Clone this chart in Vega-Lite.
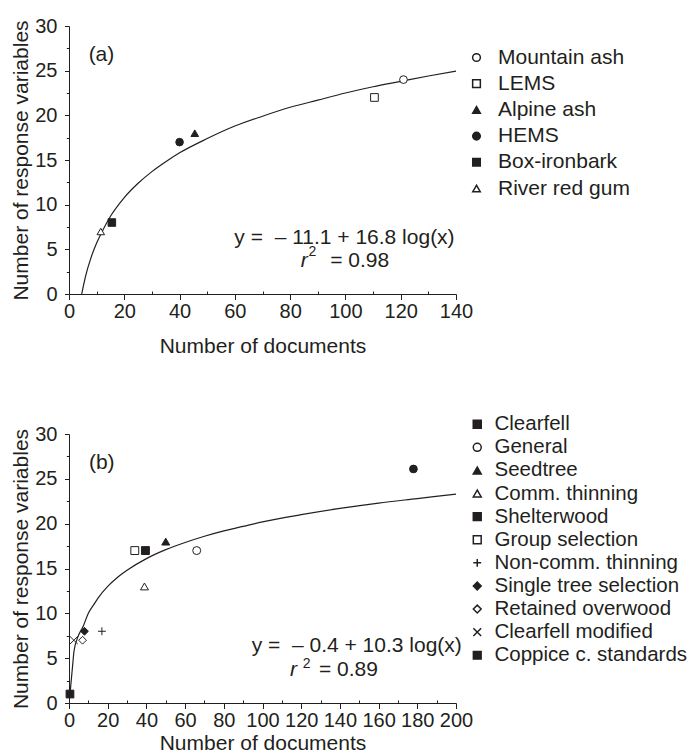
{
  "$schema": "https://vega.github.io/schema/vega-lite/v6.json",
  "background": "white",
  "padding": {"top": 16, "left": 10, "right": 0, "bottom": 0},
  "spacing": 58,
  "config": {
    "view": {"stroke": null},
    "font": "Liberation Sans",
    "axis": {
      "grid": false,
      "domainColor": "#231f20",
      "tickColor": "#231f20",
      "labelColor": "#231f20",
      "titleColor": "#231f20",
      "labelFont": "Liberation Sans",
      "titleFont": "Liberation Sans",
      "labelFontSize": 20,
      "titleFontSize": 21,
      "titleFontWeight": "normal",
      "labelOverlap": false,
      "labelSeparation": -40,
      "labelBound": false,
      "labelFlush": false
    },
    "legend": {
      "labelFont": "Liberation Sans",
      "labelFontSize": 21,
      "labelColor": "#231f20",
      "labelLimit": 400,
      "rowPadding": 1,
      "labelOffset": 8,
      "orient": "none"
    },
    "text": {"font": "Liberation Sans", "color": "#231f20"}
  },
  "resolve": {"scale": {"shape": "independent", "fill": "independent", "size": "independent"}},
  "vconcat": [
    {
      "width": 387,
      "height": 268,
      "encoding": {
        "x": {"field": "x", "type": "quantitative",
          "scale": {"domain": [0, 140], "nice": false, "zero": false},
          "axis": {"title": "Number of documents", "titlePadding": 14, "labelPadding": 1.5, "labelOverlap": false,
            "values": [0, 10, 20, 30, 40, 50, 60, 70, 80, 90, 100, 110, 120, 130, 140],
            "labelExpr": "datum.value % 20 === 0 ? datum.label : ''",
            "tickSize": {"condition": {"test": "datum.value % 20 === 0", "value": 5.5}, "value": -3}}},
        "y": {"field": "y", "type": "quantitative",
          "scale": {"domain": [0, 30], "nice": false},
          "axis": {"title": "Number of response variables", "titlePadding": 3, "labelPadding": 7.5, "labelOverlap": false,
            "values": [0, 2.5, 5, 7.5, 10, 12.5, 15, 17.5, 20, 22.5, 25, 27.5, 30],
            "labelExpr": "datum.value % 5 === 0 ? datum.label : ''",
            "tickSize": {"condition": {"test": "datum.value % 5 === 0", "value": 4.5}, "value": 2.7}}}
      },
      "layer": [
        {
          "data": {"values": [
            {"x": 4.6, "y": 0.0}, {"x": 5, "y": 0.6}, {"x": 6, "y": 2.0}, {"x": 8, "y": 4.1}, {"x": 10, "y": 5.7},
            {"x": 12, "y": 7.0}, {"x": 15, "y": 8.7}, {"x": 20, "y": 10.8}, {"x": 25, "y": 12.4}, {"x": 30, "y": 13.7},
            {"x": 35, "y": 14.8}, {"x": 40, "y": 15.8}, {"x": 50, "y": 17.4}, {"x": 60, "y": 18.8}, {"x": 70, "y": 19.9},
            {"x": 80, "y": 20.9}, {"x": 90, "y": 21.7}, {"x": 100, "y": 22.5}, {"x": 110, "y": 23.2}, {"x": 120, "y": 23.8},
            {"x": 130, "y": 24.4}, {"x": 140, "y": 24.95}
          ]},
          "mark": {"type": "line", "color": "#231f20", "strokeWidth": 1.2, "interpolate": "monotone"}
        },
        {
          "data": {"values": [
            {"site": "Mountain ash", "x": 121, "y": 24},
            {"site": "LEMS", "x": 110.5, "y": 22},
            {"site": "Alpine ash", "x": 45.5, "y": 18},
            {"site": "HEMS", "x": 40, "y": 17},
            {"site": "Box-ironbark", "x": 15.5, "y": 8},
            {"site": "River red gum", "x": 11.5, "y": 7}
          ]},
          "mark": {"type": "point", "filled": true, "stroke": "#231f20", "strokeWidth": 1, "opacity": 1},
          "encoding": {
            "shape": {"field": "site", "type": "nominal",
              "scale": {"domain": ["Mountain ash", "LEMS", "Alpine ash", "HEMS", "Box-ironbark", "River red gum"],
                "range": ["circle", "square", "triangle-up", "circle", "square", "triangle-up"]},
              "legend": {"title": null, "legendX": 397, "legendY": 21, "rowPadding": 4.2, "labelOffset": 11}},
            "fill": {"field": "site", "type": "nominal",
              "scale": {"domain": ["Mountain ash", "LEMS", "Alpine ash", "HEMS", "Box-ironbark", "River red gum"],
                "range": ["white", "white", "#231f20", "#231f20", "#231f20", "white"]},
              "legend": {"title": null, "legendX": 397, "legendY": 21, "rowPadding": 4.2, "labelOffset": 11}},
            "size": {"field": "site", "type": "nominal",
              "scale": {"domain": ["Mountain ash", "LEMS", "Alpine ash", "HEMS", "Box-ironbark", "River red gum"],
                "range": [60, 56, 150, 52, 52, 140]},
              "legend": {"title": null, "legendX": 397, "legendY": 21, "rowPadding": 4.2, "labelOffset": 11}}
          }
        },
        {
          "data": {"values": [
            {"x": 139.5, "y": 5.6, "t": "y =\u00a0\u00a0– 11.1 + 16.8 log(x)"}
          ]},
          "mark": {"type": "text", "fontSize": 21, "align": "right", "baseline": "alphabetic"},
          "encoding": {"text": {"field": "t"}}
        },
        {
          "data": {"values": [
            {"x": 94.5, "y": 3.0, "t": "= 0.98"},
            {"x": 7.1, "y": 26.1, "t": "(a)"}
          ]},
          "mark": {"type": "text", "fontSize": 21, "align": "left", "baseline": "alphabetic"},
          "encoding": {"text": {"field": "t"}}
        },
        {
          "data": {"values": [{"x": 83.8, "y": 3.0, "t": "r"}]},
          "mark": {"type": "text", "fontSize": 21, "fontStyle": "italic", "align": "left", "baseline": "alphabetic"},
          "encoding": {"text": {"field": "t"}}
        },
        {
          "data": {"values": [{"x": 86.6, "y": 4.2, "t": "2"}]},
          "mark": {"type": "text", "fontSize": 14, "align": "left", "baseline": "alphabetic"},
          "encoding": {"text": {"field": "t"}}
        }
      ]
    },
    {
      "width": 387,
      "height": 269,
      "encoding": {
        "x": {"field": "x", "type": "quantitative",
          "scale": {"domain": [0, 200], "nice": false},
          "axis": {"title": "Number of documents", "titlePadding": 2, "labelPadding": 1.5, "labelOverlap": false,
            "values": [0, 10, 20, 30, 40, 50, 60, 70, 80, 90, 100, 110, 120, 130, 140, 150, 160, 170, 180, 190, 200],
            "labelExpr": "datum.value % 20 === 0 ? datum.label : ''",
            "tickSize": {"condition": {"test": "datum.value % 20 === 0", "value": 5.5}, "value": -3}}},
        "y": {"field": "y", "type": "quantitative",
          "scale": {"domain": [0, 30], "nice": false},
          "axis": {"title": "Number of response variables", "titlePadding": 3, "labelPadding": 7.5, "labelOverlap": false,
            "values": [0, 2.5, 5, 7.5, 10, 12.5, 15, 17.5, 20, 22.5, 25, 27.5, 30],
            "labelExpr": "datum.value % 5 === 0 ? datum.label : ''",
            "tickSize": {"condition": {"test": "datum.value % 5 === 0", "value": 4.5}, "value": 2.7}}}
      },
      "layer": [
        {
          "data": {"values": [
            {"x": 0.6, "y": 1.2}, {"x": 1.75, "y": 3.9}, {"x": 2.6, "y": 5.8}, {"x": 4.3, "y": 7.2}, {"x": 7.4, "y": 8.6},
            {"x": 10, "y": 10.0}, {"x": 12.9, "y": 11.0}, {"x": 15, "y": 11.7}, {"x": 20, "y": 13.0}, {"x": 25, "y": 14.0},
            {"x": 30, "y": 14.8}, {"x": 40, "y": 16.1}, {"x": 50, "y": 17.1}, {"x": 60, "y": 17.9}, {"x": 70, "y": 18.6},
            {"x": 80, "y": 19.2}, {"x": 90, "y": 19.7}, {"x": 100, "y": 20.2}, {"x": 120, "y": 21.0}, {"x": 140, "y": 21.7},
            {"x": 160, "y": 22.3}, {"x": 180, "y": 22.8}, {"x": 200, "y": 23.3}
          ]},
          "mark": {"type": "line", "color": "#231f20", "strokeWidth": 1.2, "interpolate": "monotone"}
        },
        {
          "data": {"values": [
            {"cat": "General", "x": 66, "y": 17},
            {"cat": "Seedtree", "x": 50, "y": 18},
            {"cat": "Comm. thinning", "x": 39, "y": 13},
            {"cat": "Shelterwood", "x": 39.5, "y": 17},
            {"cat": "Group selection", "x": 34, "y": 17},
            {"cat": "Non-comm. thinning", "x": 17, "y": 8},
            {"cat": "Single tree selection", "x": 8, "y": 8},
            {"cat": "Retained overwood", "x": 7, "y": 7},
            {"cat": "Clearfell modified", "x": 2.5, "y": 7},
            {"cat": "Coppice c. standards", "x": 0.5, "y": 1}
          ]},
          "mark": {"type": "point", "filled": true, "stroke": "#231f20", "strokeWidth": 1, "opacity": 1},
          "encoding": {
            "shape": {"field": "cat", "type": "nominal",
              "scale": {"domain": ["Clearfell", "General", "Seedtree", "Comm. thinning", "Shelterwood", "Group selection", "Non-comm. thinning", "Single tree selection", "Retained overwood", "Clearfell modified", "Coppice c. standards"],
                "range": ["square", "circle", "triangle-up", "triangle-up", "square", "square", "M-1,0L1,0M0,-1L0,1", "diamond", "diamond", "M-1,-1L1,1M-1,1L1,-1", "square"]},
              "legend": {"title": null, "legendX": 398, "legendY": -20, "labelFontSize": 20.5, "labelOffset": 7, "rowPadding": 2.1}},
            "fill": {"field": "cat", "type": "nominal",
              "scale": {"domain": ["Clearfell", "General", "Seedtree", "Comm. thinning", "Shelterwood", "Group selection", "Non-comm. thinning", "Single tree selection", "Retained overwood", "Clearfell modified", "Coppice c. standards"],
                "range": ["#231f20", "white", "#231f20", "white", "#231f20", "white", "white", "#231f20", "white", "white", "#231f20"]},
              "legend": {"title": null, "legendX": 398, "legendY": -20, "labelFontSize": 20.5, "labelOffset": 7, "rowPadding": 2.1}},
            "size": {"field": "cat", "type": "nominal",
              "scale": {"domain": ["Clearfell", "General", "Seedtree", "Comm. thinning", "Shelterwood", "Group selection", "Non-comm. thinning", "Single tree selection", "Retained overwood", "Clearfell modified", "Coppice c. standards"],
                "range": [64, 60, 160, 150, 56, 72, 64, 36, 30, 30, 28]},
              "legend": {"title": null, "legendX": 398, "legendY": -20, "labelFontSize": 20.5, "labelOffset": 7, "rowPadding": 2.1}}
          }
        },
        {
          "data": {"values": [{"x": 178, "y": 26.1}]},
          "mark": {"type": "point", "shape": "circle", "filled": true, "fill": "#231f20", "stroke": "#231f20", "strokeWidth": 1, "size": 60, "opacity": 1}
        },
        {
          "data": {"values": [
            {"x": 203, "y": 5.7, "t": "y =\u00a0\u00a0– 0.4 + 10.3 log(x)"}
          ]},
          "mark": {"type": "text", "fontSize": 21, "align": "right", "baseline": "alphabetic"},
          "encoding": {"text": {"field": "t"}}
        },
        {
          "data": {"values": [
            {"x": 129.2, "y": 3.0, "t": "= 0.89"},
            {"x": 10.3, "y": 26.05, "t": "(b)"}
          ]},
          "mark": {"type": "text", "fontSize": 21, "align": "left", "baseline": "alphabetic"},
          "encoding": {"text": {"field": "t"}}
        },
        {
          "data": {"values": [{"x": 114.2, "y": 3.0, "t": "r"}]},
          "mark": {"type": "text", "fontSize": 21, "fontStyle": "italic", "align": "left", "baseline": "alphabetic"},
          "encoding": {"text": {"field": "t"}}
        },
        {
          "data": {"values": [{"x": 120.8, "y": 3.9, "t": "2"}]},
          "mark": {"type": "text", "fontSize": 14, "align": "left", "baseline": "alphabetic"},
          "encoding": {"text": {"field": "t"}}
        }
      ]
    }
  ]
}
